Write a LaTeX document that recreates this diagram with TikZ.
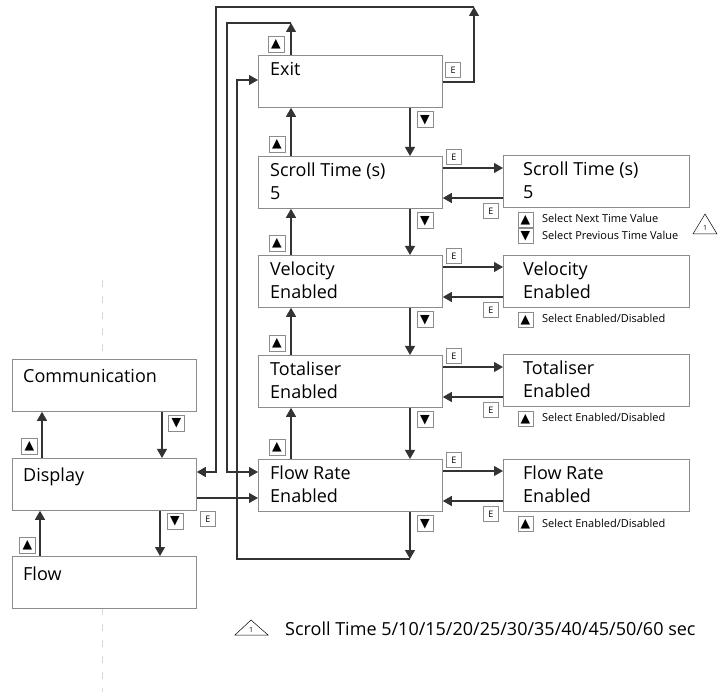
\documentclass[tikz,border=0pt]{standalone}
\usepackage{fontspec}
\setmainfont{Open Sans}
\newfontfamily\symfont{DejaVu Sans}
\usetikzlibrary{arrows.meta}

\begin{document}
\begin{tikzpicture}[x=1pt,y=-1pt,
  box/.style={draw=black!45, line width=0.8pt, minimum width=184pt, minimum height=52pt, anchor=north west, inner sep=0pt},
  txt/.style={anchor=base west, inner sep=0pt, font=\fontsize{18}{20}\selectfont},
  note/.style={anchor=base west, inner sep=0pt, font=\fontsize{11}{12}\selectfont},
  key/.style={draw=black!45, fill=white, line width=0.6pt, minimum size=16pt, inner sep=0pt, font=\symfont\fontsize{12.5}{12}\selectfont},
  ekey/.style={draw=black!45, fill=white, line width=0.6pt, minimum size=15pt, inner sep=0pt, font=\fontsize{9}{9}\selectfont},
  arr/.style={draw=black!80, line width=1.1pt, -{Triangle[length=9pt,width=10pt]}},
  ln/.style={draw=black!80, line width=1.1pt},
  guide/.style={draw=black!15, line width=1pt, dash pattern=on 7pt off 9pt}]
\useasboundingbox (0,0) rectangle (718,692);

% dashed guide
\draw[guide] (102,280) -- (102,359);
\draw[guide] (102,608) -- (102,692);

% main menu
\node[box] (comm) at (12,359) {};
\node[txt] (comm-t) at ([shift={(11,24)}]comm.north west) {Communication};
\node[box] (disp) at (12,458) {};
\node[txt] (disp-t) at ([shift={(11,24)}]disp.north west) {Display};
\node[box] (flow) at (12,556) {};
\node[txt] (flow-t) at ([shift={(11,24)}]flow.north west) {Flow};

\draw[arr] ([xshift=30pt]disp.north west) -- ([xshift=30pt]comm.south west);
\node[key] (disp-up) at (29.5,446.5) {▲};
\draw[arr] ([xshift=150pt]comm.south west) -- ([xshift=150pt]disp.north west);
\node[key] (comm-dn) at (176.5,423) {▼};
\draw[arr] ([xshift=148pt]disp.south west) -- ([xshift=148pt]flow.north west);
\node[key] (disp-dn) at (175,521) {▼};
\draw[arr] ([xshift=28pt]flow.north west) -- ([xshift=28pt]disp.south west);
\node[key] (flow-up) at (27.5,545) {▲};

% display submenu
\node[box] (exit) at (258,55) {};
\node[txt] (exit-t) at ([shift={(12,21)}]exit.north west) {Exit};
\node[box] (scroll) at (258,156) {};
\node[txt] (scroll-t) at ([shift={(12,21)}]scroll.north west) {Scroll Time (s)};
\node[txt] (scroll-v) at ([shift={(12,44)}]scroll.north west) {5};
\node[box] (velo) at (258,255) {};
\node[txt] (velo-t) at ([shift={(12,21)}]velo.north west) {Velocity};
\node[txt] (velo-v) at ([shift={(12,44)}]velo.north west) {Enabled};
\node[box] (total) at (258,355) {};
\node[txt] (total-t) at ([shift={(12,21)}]total.north west) {Totaliser};
\node[txt] (total-v) at ([shift={(12,44)}]total.north west) {Enabled};
\node[box] (frate) at (258,459) {};
\node[txt] (frate-t) at ([shift={(12,21)}]frate.north west) {Flow Rate};
\node[txt] (frate-v) at ([shift={(12,44)}]frate.north west) {Enabled};

\foreach \a/\b in {exit/scroll,scroll/velo,velo/total,total/frate}{
  \draw[arr] ([xshift=152pt]\a.south west) -- ([xshift=152pt]\b.north west);
  \draw[arr] ([xshift=33pt]\b.north west) -- ([xshift=33pt]\a.south west);
  \node[key] (\a-dn) at ([shift={(167,12)}]\a.south west) {▼};
  \node[key] (\b-up) at ([shift={(19,-12)}]\b.north west) {▲};
}

% edit screens
\node[box, minimum width=186pt] (scroll-set) at (503,155) {};
\node[txt] (scroll-set-t) at ([shift={(20,21)}]scroll-set.north west) {Scroll Time (s)};
\node[txt] (scroll-set-v) at ([shift={(20,44)}]scroll-set.north west) {5};
\node[box, minimum width=186pt] (velo-set) at (503,255) {};
\node[txt] (velo-set-t) at ([shift={(20,21)}]velo-set.north west) {Velocity};
\node[txt] (velo-set-v) at ([shift={(20,44)}]velo-set.north west) {Enabled};
\node[box, minimum width=186pt] (total-set) at (503,354) {};
\node[txt] (total-set-t) at ([shift={(20,21)}]total-set.north west) {Totaliser};
\node[txt] (total-set-v) at ([shift={(20,44)}]total-set.north west) {Enabled};
\node[box, minimum width=186pt] (frate-set) at (503,459) {};
\node[txt] (frate-set-t) at ([shift={(20,21)}]frate-set.north west) {Flow Rate};
\node[txt] (frate-set-v) at ([shift={(20,44)}]frate-set.north west) {Enabled};

\foreach \a in {scroll,velo,total,frate}{
  \draw[arr] ([yshift=-12pt]\a.north east) -- ([yshift=-12pt]\a.north east -| \a-set.west);
  \draw[arr] ([yshift=-42pt]\a.north east -| \a-set.west) -- ([yshift=-42pt]\a.north east);
  \node[ekey] (\a-e1) at ([shift={(11,1)}]\a.north east) {E};
  \node[ekey] (\a-e2) at ([shift={(48,55)}]\a.north east) {E};
}

% key notes
\node[key, minimum size=15pt] (scroll-nx) at ([shift={(22.5,65)}]scroll-set.north west) {▲};
\node[note] (scroll-nx-t) at ([shift={(39,68)}]scroll-set.north west) {Select Next Time Value};
\node[key, minimum size=15pt] (scroll-pv) at ([shift={(22.5,81)}]scroll-set.north west) {▼};
\node[note] (scroll-pv-t) at ([shift={(39,85)}]scroll-set.north west) {Select Previous Time Value};
\foreach \a in {velo,total,frate}{
  \node[key, minimum size=15pt] (\a-nx) at ([shift={(22.5,65)}]\a-set.north west) {▲};
  \node[note] (\a-nx-t) at ([shift={(39,68)}]\a-set.north west) {Select Enabled/Disabled};
}
\draw[line width=0.5pt] (705,214) -- (717,234) -- (693,234) -- cycle;
\node[font=\fontsize{7}{7}\selectfont, inner sep=0pt] (tri-n) at (705,228) {1};

% wrap-around lines
\coordinate (top-r) at (474,7);
\coordinate (top-l) at (216,7);
\draw[arr] ([yshift=-27pt]exit.north east) -| (top-r);
\node[ekey] (exit-e) at (453,70) {E};
\draw[arr] (top-r) -- (top-l) |- ([yshift=-14pt]disp.north east);

\coordinate (wrap-r) at (291,23);
\coordinate (wrap-l) at (227,23);
\draw[arr] ([xshift=33pt]exit.north west) -- (wrap-r);
\node[key] (exit-up) at (276,44) {▲};
\draw[arr] (wrap-r) -- (wrap-l) |- ([yshift=-13pt]frate.north west);

\coordinate (wrap-b) at (410,559);
\coordinate (wrap-bl) at (237,559);
\draw[arr] ([xshift=152pt]frate.south west) -- (wrap-b);
\node[key] (frate-dn) at ([shift={(167,12)}]frate.south west) {▼};
\draw[arr] (wrap-b) -- (wrap-bl) |- ([yshift=-25pt]exit.north west);

\draw[arr] ([yshift=-40pt]disp.north east) -- ([yshift=-40pt]disp.north east -| frate.west);
\node[ekey] (disp-e) at (208,519) {E};

% footnote
\draw[line width=0.5pt] (251,620) -- (268,635) -- (235,635) -- cycle;
\node[font=\fontsize{7}{7}\selectfont, inner sep=0pt] (foot-n) at (251,630) {1};
\node[txt] (foot) at (285,635) {Scroll Time 5/10/15/20/25/30/35/40/45/50/60 sec};
\end{tikzpicture}
\end{document}
